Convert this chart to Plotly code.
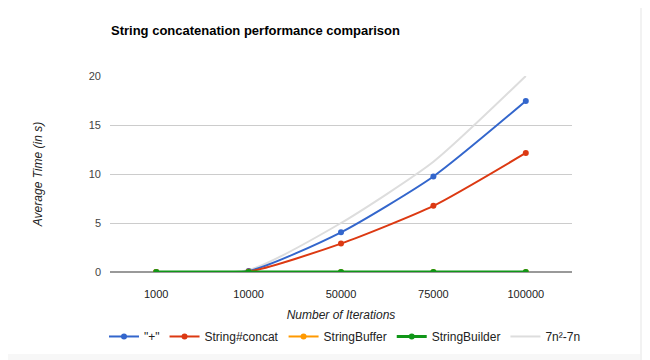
import plotly.graph_objects as go

categories = ["1000", "10000", "50000", "75000", "100000"]
plus_op = [0.0, 0.1, 4.05, 9.75, 17.45]
string_concat = [0.0, 0.05, 2.9, 6.75, 12.15]
string_buffer = [0.0, 0.0, 0.0, 0.0, 0.0]
string_builder = [0.0, 0.0, 0.0, 0.0, 0.0]
model = [0.0, 0.2, 5.0, 11.25, 20.0]

series = [
    ("7n²-7n", model, "#dddddd", False, 2, 5),
    ('"+"', plus_op, "#3366cc", True, 2, 1),
    ("String#concat", string_concat, "#dc3912", True, 2, 2),
    ("StringBuffer", string_buffer, "#ff9900", True, 2, 3),
    ("StringBuilder", string_builder, "#109618", True, 3, 4),
]

fig = go.Figure()
for name, vals, color, pts, w, rank in series:
    fig.add_trace(go.Scatter(
        x=categories, y=vals, name=name, legendrank=rank,
        mode="lines+markers" if pts else "lines",
        line=dict(color=color, width=w, shape="spline", smoothing=0.6),
        marker=dict(size=6, color=color),
    ))

L, T, PW, PH = 102, 68, 462, 196
fig.update_layout(
    width=650, height=360,
    margin=dict(l=L, r=650 - L - PW, t=T, b=360 - T - PH, autoexpand=False),
    paper_bgcolor="white", plot_bgcolor="white",
    font=dict(family="Liberation Sans, Arial, sans-serif", size=11, color="#444"),
    title=dict(text="<b>String concatenation performance comparison</b>",
               x=103/650, xanchor="left", y=1-22/360, yanchor="middle",
               font=dict(size=13, color="#000")),
    showlegend=True,
    legend=dict(orientation="h", x=-6/PW, xanchor="left", y=-0.255, yanchor="top",
                font=dict(size=12, color="#222"), traceorder="normal",
                itemwidth=30, bgcolor="rgba(0,0,0,0)"),
    xaxis=dict(type="category", range=[-0.5, 4.5], showgrid=False,
               ticks="", tickfont=dict(size=11, color="#222"),
               ticklabelstandoff=14,
               title=dict(text="<i>Number of Iterations</i>", standoff=11,
                          font=dict(size=12, color="#222")),
               showline=False, zeroline=False, fixedrange=True),
    yaxis=dict(range=[0, 20], tickvals=[0, 5, 10, 15, 20], showgrid=True,
               gridcolor="#cccccc", gridwidth=1, zeroline=True,
               zerolinecolor="#999999", zerolinewidth=1.5,
               tickfont=dict(size=11, color="#444"), ticks="",
               ticklabelstandoff=8,
               title=dict(text="<i>Average Time (in s)</i>", standoff=43,
                          font=dict(size=12, color="#222")),
               fixedrange=True),
)

# light grey frame strips of the original screenshot
fig.add_shape(type="rect", xref="paper", yref="paper",
              x0=(632-L)/PW, x1=(650-L)/PW, y0=-1.0, y1=1.5,
              fillcolor="#f2f2f2", line_width=0, layer="below")
fig.add_shape(type="rect", xref="paper", yref="paper",
              x0=-0.6, x1=(632-L)/PW, y0=(PH-(354-T))/PH, y1=(PH-(346-T))/PH,
              fillcolor="#f7f7f7", line_width=0, layer="below")

fig.write_html("out.html")
